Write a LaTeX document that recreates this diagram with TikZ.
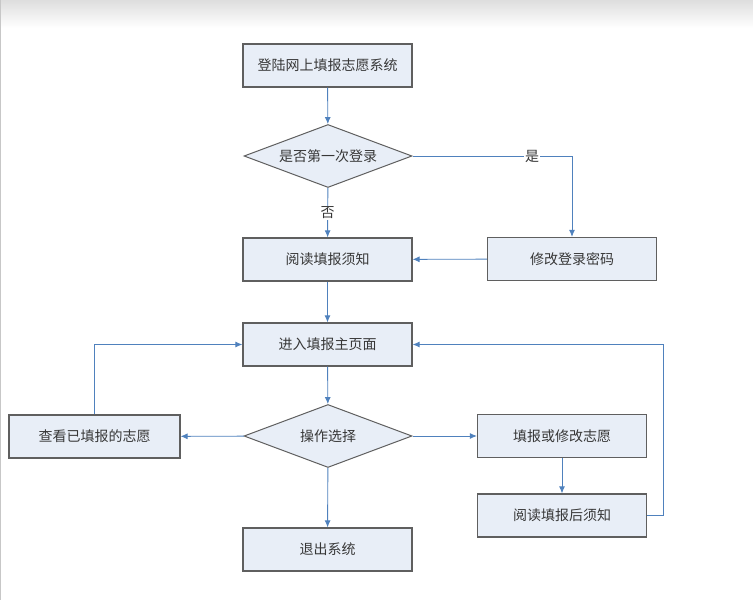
\documentclass[tikz,border=0pt]{standalone}
\usepackage{fontspec}
\newfontfamily\cjk{Noto Sans CJK SC}
\usetikzlibrary{arrows.meta,positioning,shapes.geometric}
\definecolor{boxfill}{RGB}{232,238,247}
\definecolor{boxline}{RGB}{95,95,95}
\definecolor{linkblue}{RGB}{79,129,189}
\definecolor{textgray}{RGB}{55,55,55}

\begin{document}
\begin{tikzpicture}[x=1pt, y=-1pt,
    box/.style={rectangle, draw=boxline, fill=boxfill, line width=1.2pt, minimum width=169pt, minimum height=43pt, font=\cjk\fontsize{14}{16}\selectfont, text=textgray},
    choice/.style={diamond, draw=boxline, fill=boxfill, line width=1pt, minimum width=168pt, minimum height=63pt, aspect=2.7, inner sep=0pt, font=\cjk\fontsize{14}{16}\selectfont, text=textgray},
    link/.style={draw=linkblue, line width=0.9pt, -{Latex[length=7pt,width=6pt]}},
    lbl/.style={fill=white, inner sep=1pt, font=\cjk\fontsize{14}{16}\selectfont, text=textgray}
]
    \useasboundingbox (0,0) rectangle (753,600);
    % screenshot edge
    \shade[top color=black!13, bottom color=white] (0,0) rectangle (753,28);
    \draw[black!22] (0.5,0) -- (0.5,600);

    \node[box] (login) at (327.5,65.5) {登陆网上填报志愿系统};
    \node[choice] (first) at (328,156) {是否第一次登录};
    \node[box] (notice) at (327.5,259.5) {阅读填报须知};
    \node[box] (chpwd) at (572,259) {修改登录密码};
    \node[box] (mainpg) at (327.5,344.5) {进入填报主页面};
    \node[choice] (op) at (328,436) {操作选择};
    \node[box, minimum width=171pt] (view) at (94.5,436.5) {查看已填报的志愿};
    \node[box] (edit) at (562,436) {填报或修改志愿};
    \node[box] (after) at (562,515.5) {阅读填报后须知};
    \node[box] (quit) at (327.5,549.5) {退出系统};
    \coordinate (backturn) at (663,515.5);

    \draw[link] (login) -- (first);
    \draw[link] (first.east) -| node[lbl, pos=0.375] {是} (chpwd.north);
    \draw[link] (first) -- node[lbl] {否} (notice);
    \draw[link] (chpwd) -- (notice);
    \draw[link] (notice) -- (mainpg);
    \draw[link] (mainpg) -- (op);
    \draw[link] (op) -- (view);
    \draw[link] (view) |- (mainpg);
    \draw[link] (op) -- (edit);
    \draw[link] (edit) -- (after);
    \draw[link] (after.east) -- (backturn) |- (mainpg.east);
    \draw[link] (op) -- (quit);
\end{tikzpicture}
\end{document}
